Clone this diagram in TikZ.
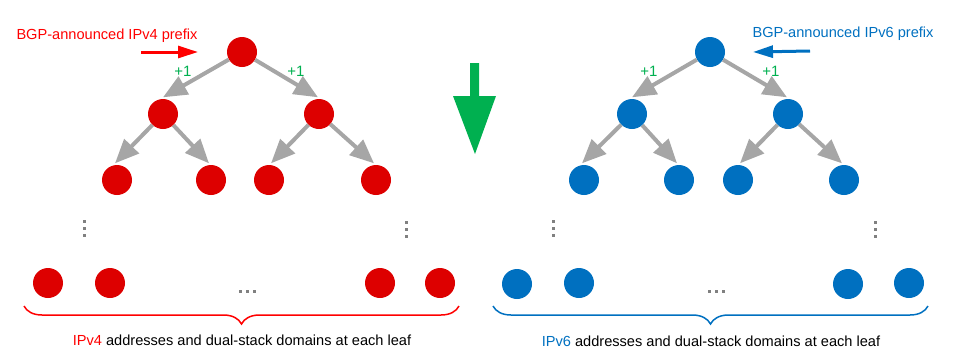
\documentclass[tikz,border=0pt]{standalone}
\usepackage{fontspec}
\setmainfont{Liberation Sans}
\usetikzlibrary{arrows.meta,decorations.pathreplacing}
\definecolor{vred}{RGB}{221,0,0}
\definecolor{tred}{RGB}{255,0,0}
\definecolor{vblue}{RGB}{0,112,192}
\definecolor{egray}{RGB}{166,166,166}
\definecolor{dgray}{RGB}{128,128,128}
\definecolor{pgreen}{RGB}{0,176,80}
\tikzset{
  rdot/.style={circle,fill=vred,draw=none,minimum size=30pt,inner sep=0pt},
  bdot/.style={circle,fill=vblue,draw=none,minimum size=30pt,inner sep=0pt},
  edge/.style={draw=egray,line width=4pt,-{Triangle[length=24pt,width=20pt]}},
  plus/.style={text=pgreen,font=\fontsize{15pt}{17pt}\selectfont,inner sep=0pt},
  lbl/.style={font=\fontsize{14.6pt}{17pt}\selectfont,inner sep=0pt},
  sdot/.style={fill=dgray,draw=none,minimum size=3pt,inner sep=0pt,rectangle},
  parrow/.style={line width=3pt,-{Triangle[length=20pt,width=12pt]}},
  bracestyle/.style={line width=1.5pt,decorate,decoration={brace,amplitude=18pt,raise=0pt}},
}
\newcommand{\vdotsat}[2]{%
  \node[sdot] at (#1,#2-7) {};\node[sdot] at (#1,#2) {};\node[sdot] at (#1,#2+7) {};}
\newcommand{\hdotsat}[2]{%
  \node[sdot] at (#1-7,#2) {};\node[sdot] at (#1,#2) {};\node[sdot] at (#1+7,#2) {};}
% edge to the top of a child: #1 parent, #2 child, #3 xshift
\newcommand{\tedge}[3]{\draw[edge] (#1) -- ([xshift=#3,yshift=1.5pt]#2.north);}
\begin{document}
\begin{tikzpicture}[x=1pt,y=-1pt]
\useasboundingbox (0,0) rectangle (953,360);
% ---------- IPv4 tree ----------
\node[rdot] (r4) at (242,52) {};
\node[rdot] (a4) at (163,114) {};
\node[rdot] (b4) at (319,114) {};
\node[rdot] (c4) at (117,180) {};
\node[rdot] (d4) at (211,180) {};
\node[rdot] (e4) at (269,180) {};
\node[rdot] (f4) at (376,180) {};
\tedge{r4}{a4}{0pt}
\tedge{r4}{b4}{-1pt}
\tedge{a4}{c4}{-2pt}
\tedge{a4}{d4}{-2pt}
\tedge{b4}{e4}{2pt}
\tedge{b4}{f4}{-2pt}
\node[plus] (p4a) at (183,71) {+1};
\node[plus] (p4b) at (296,71) {+1};
\node[lbl,text=tred] (t4) at (107,36) {BGP-announced IPv4 prefix};
\coordinate (s4) at (141,52);
\coordinate (e4a) at (198,52);
\draw[tred,parrow] (s4) -- (e4a);
\vdotsat{84}{228}
\vdotsat{406}{229}
\node[rdot] (l41) at (48,283) {};
\node[rdot] (l42) at (110,283) {};
\node[rdot] (l43) at (380,283) {};
\node[rdot] (l44) at (440,283) {};
\hdotsat{247}{291}
\coordinate (br4a) at (459,306);
\coordinate (br4b) at (24,306);
\draw[tred,bracestyle] (br4a) -- (br4b);
\node[lbl] (cap4) at (242,340) {\textcolor{tred}{IPv4} addresses and dual-stack domains at each leaf};
% ---------- green arrow ----------
\fill[pgreen] (470,63) -- (479,63) -- (479,96) -- (496,96) -- (475,154) -- (453,96) -- (470,96) -- cycle;
% ---------- IPv6 tree ----------
\node[bdot] (r6) at (710,52) {};
\node[bdot] (a6) at (632,114) {};
\node[bdot] (b6) at (788,114) {};
\node[bdot] (c6) at (584,180) {};
\node[bdot] (d6) at (679,180) {};
\node[bdot] (e6) at (738,180) {};
\node[bdot] (f6) at (844,180) {};
\tedge{r6}{a6}{0pt}
\tedge{r6}{b6}{-1pt}
\tedge{a6}{c6}{-2pt}
\tedge{a6}{d6}{-2pt}
\tedge{b6}{e6}{2pt}
\tedge{b6}{f6}{-2pt}
\node[plus] (p6a) at (649,71) {+1};
\node[plus] (p6b) at (771,71) {+1};
\node[lbl,text=vblue] (t6) at (843,34) {BGP-announced IPv6 prefix};
\coordinate (s6) at (810,51);
\coordinate (e6a) at (753,52);
\draw[vblue,parrow] (s6) -- (e6a);
\vdotsat{553}{228}
\vdotsat{875}{229}
\node[bdot] (l61) at (517,284) {};
\node[bdot] (l62) at (579,283) {};
\node[bdot] (l63) at (848,284) {};
\node[bdot] (l64) at (909,283) {};
\hdotsat{716}{291}
\coordinate (br6a) at (928,306);
\coordinate (br6b) at (493,306);
\draw[vblue,bracestyle] (br6a) -- (br6b);
\node[lbl] (cap6) at (711,341) {\textcolor{vblue}{IPv6} addresses and dual-stack domains at each leaf};
\end{tikzpicture}
\end{document}
